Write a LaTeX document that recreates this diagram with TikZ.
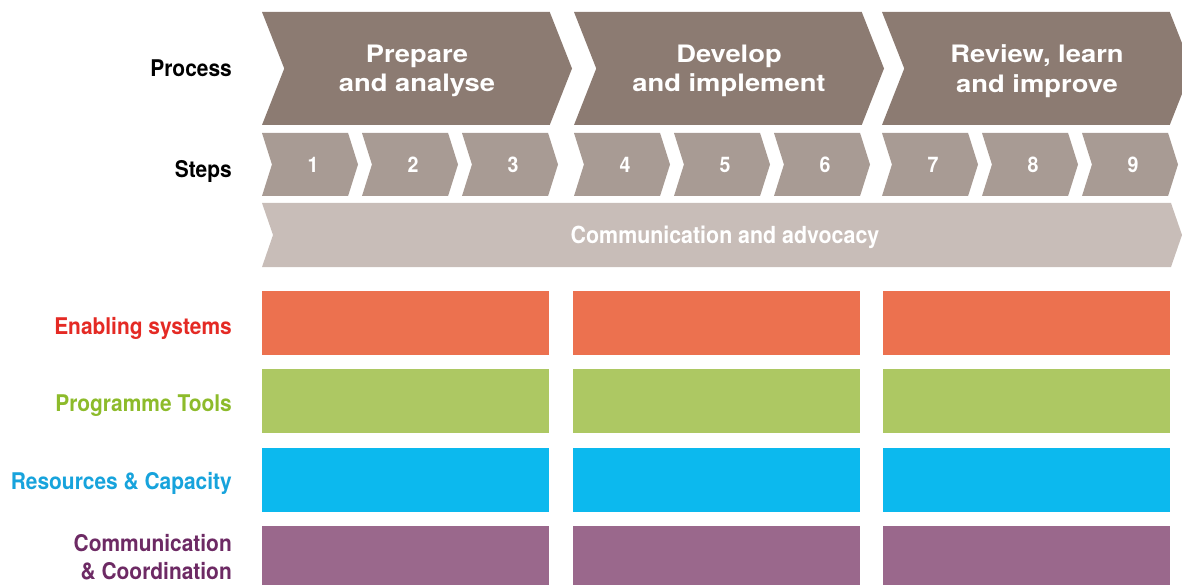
\documentclass[tikz,border=0pt]{standalone}
\usepackage{fontspec}
\setmainfont{TeX Gyre Heros}
\newfontfamily\narrowfont[FakeStretch=0.91]{TeX Gyre Heros}
\newfontfamily\widefont[FakeStretch=1.14]{TeX Gyre Heros}
\usetikzlibrary{shapes.symbols}
\definecolor{processBrown}{RGB}{140, 123, 114}
\definecolor{stepBrown}{RGB}{168, 155, 148}
\definecolor{commGray}{RGB}{200, 189, 184}
\definecolor{enablingOrange}{RGB}{236, 113, 79}
\definecolor{toolsGreen}{RGB}{173, 200, 99}
\definecolor{resourceBlue}{RGB}{12, 185, 238}
\definecolor{coordPurple}{RGB}{154, 104, 140}
\definecolor{enablingText}{RGB}{228, 42, 36}
\definecolor{toolsText}{RGB}{141, 187, 43}
\definecolor{resourceText}{RGB}{23, 163, 220}
\definecolor{coordText}{RGB}{109, 42, 100}

\begin{document}
\begin{tikzpicture}[x=1pt,y=-1pt,
    phase/.style={signal,signal from=west,signal to=east,signal pointer angle=137,fill=processBrown,text=white,inner sep=0pt,minimum width=310pt,minimum height=113pt,align=center,text depth=0pt,font=\fontsize{24}{29.2}\selectfont\widefont\bfseries},
    stepbox/.style={signal,signal from=west,signal to=east,signal pointer angle=145,fill=stepBrown,text=white,inner sep=0pt,minimum width=96pt,minimum height=63pt,font=\fontsize{21.5}{26}\selectfont\narrowfont\bfseries},
    block/.style={fill=#1,inner sep=0pt,minimum width=287pt,minimum height=64pt},
    rowlabel/.style={anchor=base east,inner sep=0pt,align=right,text=#1,font=\fontsize{23}{28}\selectfont\narrowfont\bfseries}]
    \useasboundingbox (0,0) rectangle (1182,585);
            % Process
            \node[phase] (prepare) at (417,68.5) {Prepare\\and analyse};
            \node[phase] (develop) at (729,68.5) {Develop\\and implement};
            \node[phase] (review) at (1037,68.5) {Review, learn\\and improve};
            
            % Steps
            \node[stepbox] (s1) at (310,164.5) {\kern6pt1};
            \node[stepbox] (s2) at (410,164.5) {\kern6pt2};
            \node[stepbox] (s3) at (510,164.5) {\kern6pt3};
            \node[stepbox] (s4) at (622,164.5) {\kern6pt4};
            \node[stepbox] (s5) at (722,164.5) {\kern6pt5};
            \node[stepbox] (s6) at (822,164.5) {\kern6pt6};
            \node[stepbox] (s7) at (930,164.5) {\kern6pt7};
            \node[stepbox] (s8) at (1030,164.5) {\kern6pt8};
            \node[stepbox] (s9) at (1130,164.5) {\kern6pt9};
            
            \node[signal,signal from=west,signal to=east,signal pointer angle=142,fill=commGray,text=white,inner sep=0pt,minimum width=920pt,minimum height=64pt,text depth=0pt,font=\fontsize{23.5}{27}\selectfont\narrowfont\bfseries] (advocacy) at (722,235) {\kern6pt Communication and advocacy};
            
            % Areas
            \node[block=enablingOrange] (es1) at (405.5,323) {};
            \node[block=enablingOrange] (es2) at (716.5,323) {};
            \node[block=enablingOrange] (es3) at (1026.5,323) {};
            \node[block=toolsGreen] (pt1) at (405.5,401) {};
            \node[block=toolsGreen] (pt2) at (716.5,401) {};
            \node[block=toolsGreen] (pt3) at (1026.5,401) {};
            \node[block=resourceBlue] (rc1) at (405.5,480) {};
            \node[block=resourceBlue] (rc2) at (716.5,480) {};
            \node[block=resourceBlue] (rc3) at (1026.5,480) {};
            \node[block=coordPurple] (cc1) at (405.5,558) {};
            \node[block=coordPurple] (cc2) at (716.5,558) {};
            \node[block=coordPurple] (cc3) at (1026.5,558) {};
            
            % Labels on the left
            \node[rowlabel=black] (process) at (232,77) {Process};
            \node[rowlabel=black] (steps) at (232,178) {Steps};
            \node[rowlabel=enablingText] (enabling) at (232,334) {Enabling systems};
            \node[rowlabel=toolsText] (tools) at (232,411.5) {Programme Tools};
            \node[rowlabel=resourceText] (resources) at (232,489) {Resources \& Capacity};
            \node[rowlabel=coordText,anchor=east] (coordination) at (232,557.3) {Communication\\\& Coordination};
        \end{tikzpicture}
\end{document}
